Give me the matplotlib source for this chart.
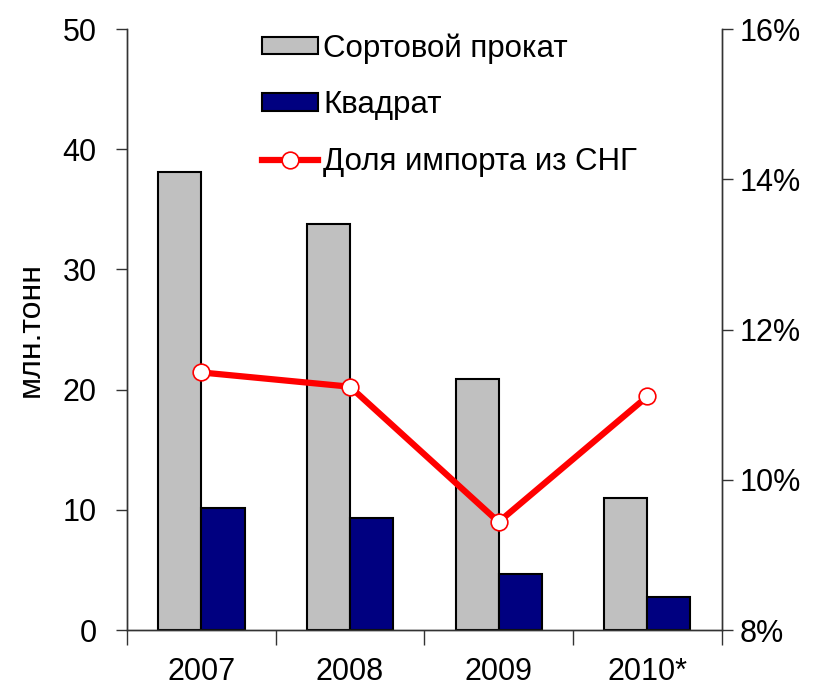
import matplotlib.pyplot as plt
import numpy as np

plt.rcParams['font.family'] = ['Liberation Sans', 'DejaVu Sans']

years = ['2007', '2008', '2009', '2010*']
sortovoy = [38.1, 33.8, 20.9, 11.0]
kvadrat = [10.2, 9.3, 4.7, 2.8]
dolya = [11.43, 11.24, 9.44, 11.11]

fig = plt.figure(figsize=(8.2, 6.91), dpi=100)
ax = fig.add_axes((0.155, 0.088, 0.725, 0.870))
ax2 = ax.twinx()

x = np.arange(len(years))
w = 0.29
b1 = ax.bar(x - w / 2, sortovoy, w, color='#C0C0C0', edgecolor='black',
            linewidth=1.5, label='Сортовой прокат')
b2 = ax.bar(x + w / 2, kvadrat, w, color='#000080', edgecolor='black',
            linewidth=1.5, label='Квадрат')
ln, = ax2.plot(x, dolya, color='red', lw=4.5, marker='o', ms=12,
               mfc='white', mec='red', mew=1.2, label='Доля импорта из СНГ')

ax.set_xlim(-0.5, 3.5)
ax.set_ylim(0, 50)
ax.set_yticks(range(0, 51, 10))
ax2.set_ylim(8, 16)
ax2.set_yticks(range(8, 17, 2))
ax2.set_yticklabels([f'{v}%' for v in range(8, 17, 2)])

ax.set_xticks(x)
ax.set_xticklabels(years)
ax.set_xticks(np.arange(-0.5, 4.0, 1.0), minor=True)
ax.tick_params(axis='x', which='major', length=0, pad=19, labelsize=22)
ax.tick_params(axis='x', which='minor', length=11, width=1, direction='out',
               color='#333333')
ax.tick_params(axis='y', length=8, width=1, pad=14, labelsize=22,
               color='#333333')
ax2.tick_params(axis='y', length=8, width=1, pad=5, labelsize=22,
                color='#333333')

for a in (ax, ax2):
    a.spines['top'].set_visible(False)
    for s in ('left', 'right', 'bottom'):
        a.spines[s].set_color('#333333')
        a.spines[s].set_linewidth(1)

ax.set_ylabel('млн.тонн', fontsize=23, labelpad=12)

ax.legend([b1, b2, ln], [b1.get_label(), b2.get_label(), ln.get_label()],
          loc='upper left', bbox_to_anchor=(0.18, 1.04), frameon=False,
          fontsize=22.5, handlelength=1.8, handleheight=0.5,
          handletextpad=0.15, labelspacing=0.85)

fig.savefig('out.png', dpi=100)
